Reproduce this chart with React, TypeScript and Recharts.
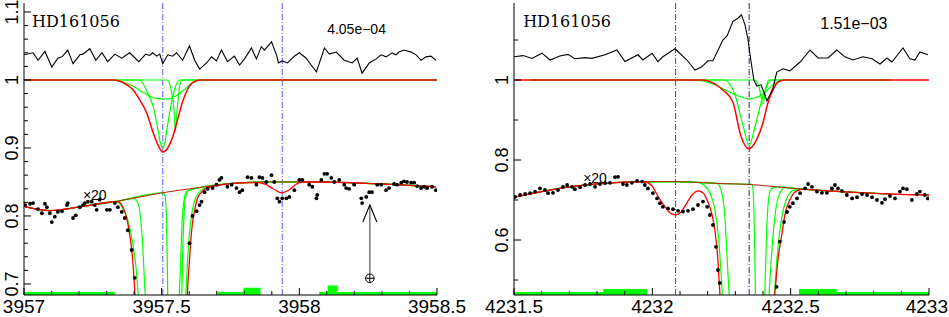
import React from 'react'
import { ComposedChart, Line, Scatter, XAxis, YAxis, ReferenceLine, ReferenceArea, ReferenceDot } from 'recharts'

type P = { x: number; y: number }
const pts = (a: number[][]): P[] => a.map(([x, y]) => ({ x, y }))

// ---------- left panel (3957 - 3958.5) ----------
const leftXTicks = [3957, 3957.1, 3957.2, 3957.3, 3957.4, 3957.5, 3957.6, 3957.7, 3957.8, 3957.9, 3958, 3958.1, 3958.2, 3958.3, 3958.4, 3958.5]
const leftXMajor = [3957, 3957.5, 3958, 3958.5]
const leftYTicks = [0.7, 0.72, 0.74, 0.76, 0.78, 0.8, 0.82, 0.84, 0.86, 0.88, 0.9, 0.92, 0.94, 0.96, 0.98, 1, 1.02, 1.04, 1.06, 1.08, 1.1]
const leftYMajor = [0.7, 0.8, 0.9, 1, 1.1]
const leftMarks = [3957.504, 3957.938]

const leftUpper = [
  [3957.0, 1.037], [3957.033, 1.04], [3957.051, 1.029], [3957.076, 1.042], [3957.101, 1.019], [3957.123, 1.032],
  [3957.138, 1.034], [3957.159, 1.044], [3957.178, 1.024], [3957.203, 1.037], [3957.214, 1.038], [3957.239, 1.046],
  [3957.261, 1.029], [3957.283, 1.04], [3957.304, 1.027], [3957.33, 1.038], [3957.355, 1.032], [3957.384, 1.04],
  [3957.417, 1.027], [3957.442, 1.038], [3957.457, 1.036], [3957.467, 1.04], [3957.482, 1.035], [3957.493, 1.038],
  [3957.504, 1.024], [3957.522, 1.037], [3957.54, 1.035], [3957.554, 1.04], [3957.576, 1.029], [3957.601, 1.05],
  [3957.62, 1.029], [3957.638, 1.016], [3957.663, 1.025], [3957.681, 1.034], [3957.699, 1.028], [3957.717, 1.044],
  [3957.739, 1.027], [3957.764, 1.035], [3957.783, 1.022], [3957.801, 1.031], [3957.826, 1.047], [3957.844, 1.031],
  [3957.862, 1.049], [3957.873, 1.044], [3957.899, 1.056], [3957.917, 1.037], [3957.924, 1.025], [3957.938, 1.028],
  [3957.957, 1.025], [3957.982, 1.035], [3958.0, 1.04], [3958.025, 1.032], [3958.043, 1.022], [3958.062, 1.012],
  [3958.091, 1.047], [3958.109, 1.038], [3958.134, 1.041], [3958.163, 1.029], [3958.192, 1.025], [3958.21, 1.032],
  [3958.228, 1.01], [3958.254, 1.025], [3958.279, 1.031], [3958.297, 1.037], [3958.315, 1.034], [3958.337, 1.04],
  [3958.351, 1.037], [3958.362, 1.041], [3958.38, 1.044], [3958.406, 1.041], [3958.424, 1.037], [3958.442, 1.029],
  [3958.46, 1.034], [3958.478, 1.035], [3958.496, 1.029],
]

const leftFit = [
  [3957.0, 1], [3957.33, 1], [3957.36, 0.996], [3957.395, 0.986], [3957.42, 0.971], [3957.446, 0.951],
  [3957.467, 0.925], [3957.486, 0.905], [3957.504, 0.894], [3957.522, 0.9], [3957.54, 0.916], [3957.558, 0.942],
  [3957.576, 0.968], [3957.594, 0.986], [3957.612, 0.996], [3957.638, 1], [3958.5, 1],
]
const leftCompA = [
  [3957.0, 1], [3957.32, 1], [3957.36, 0.997], [3957.4, 0.99], [3957.44, 0.98], [3957.48, 0.973], [3957.52, 0.972],
  [3957.55, 0.976], [3957.58, 0.985], [3957.61, 0.995], [3957.65, 1], [3958.5, 1],
]
const leftCompB = [
  [3957.0, 1], [3957.42, 1], [3957.45, 0.98], [3957.47, 0.96], [3957.485, 0.93], [3957.497, 0.905], [3957.503, 0.9],
  [3957.51, 0.905], [3957.52, 0.93], [3957.535, 0.965], [3957.55, 0.99], [3957.565, 1], [3958.5, 1],
]
const leftCompC = [
  [3957.0, 1], [3957.52, 1], [3957.535, 0.985], [3957.545, 0.955], [3957.55, 0.925], [3957.556, 0.955],
  [3957.565, 0.99], [3957.575, 1], [3958.5, 1],
]

// x20 magnified part
const leftCont = [
  [3957.0, 0.814], [3957.094, 0.808], [3957.214, 0.814], [3957.33, 0.821], [3957.5, 0.834], [3957.64, 0.842],
  [3957.757, 0.848], [3957.88, 0.85], [3958.062, 0.85], [3958.243, 0.848], [3958.496, 0.843],
]
const leftFit20 = [
  [3957.0, 0.814], [3957.094, 0.808], [3957.214, 0.814], [3957.33, 0.821], [3957.341, 0.821], [3957.359, 0.813],
  [3957.373, 0.797], [3957.384, 0.772], [3957.395, 0.735], [3957.402, 0.691], [3957.406, 0.66], [3957.42, 0.45],
  [3957.58, 0.45], [3957.591, 0.662], [3957.594, 0.691], [3957.601, 0.735], [3957.609, 0.779], [3957.62, 0.809],
  [3957.63, 0.826], [3957.645, 0.835], [3957.663, 0.841], [3957.692, 0.844], [3957.757, 0.848], [3957.844, 0.849],
  [3957.875, 0.847], [3957.905, 0.84], [3957.935, 0.834], [3957.965, 0.839], [3957.99, 0.847], [3958.011, 0.85],
  [3958.062, 0.85], [3958.243, 0.848], [3958.496, 0.843],
]
const leftCompA20 = [
  [3957.0, 0.814], [3957.094, 0.808], [3957.214, 0.814], [3957.33, 0.821], [3957.345, 0.819], [3957.36, 0.81],
  [3957.38, 0.79], [3957.395, 0.76], [3957.41, 0.71], [3957.418, 0.66], [3957.43, 0.5], [3957.57, 0.5],
  [3957.585, 0.66], [3957.592, 0.72], [3957.6, 0.77], [3957.61, 0.805], [3957.625, 0.828], [3957.645, 0.838],
  [3957.67, 0.843], [3957.757, 0.848], [3957.88, 0.85], [3958.062, 0.85], [3958.243, 0.848], [3958.496, 0.843],
]
const leftCompB20 = [
  [3957.0, 0.814], [3957.094, 0.808], [3957.214, 0.814], [3957.33, 0.821], [3957.4, 0.826], [3957.415, 0.818],
  [3957.425, 0.79], [3957.432, 0.75], [3957.438, 0.7], [3957.443, 0.66], [3957.45, 0.5], [3957.555, 0.5],
  [3957.562, 0.66], [3957.568, 0.72], [3957.573, 0.78], [3957.58, 0.82], [3957.59, 0.836], [3957.61, 0.839],
  [3957.757, 0.848], [3957.88, 0.85], [3958.062, 0.85], [3958.243, 0.848], [3958.496, 0.843],
]
const leftCompC20 = [
  [3957.0, 0.814], [3957.094, 0.808], [3957.214, 0.814], [3957.33, 0.821], [3957.505, 0.834], [3957.512, 0.83],
  [3957.517, 0.8], [3957.52, 0.74], [3957.523, 0.66], [3957.53, 0.5], [3957.565, 0.5], [3957.572, 0.66],
  [3957.576, 0.74], [3957.58, 0.79], [3957.586, 0.825], [3957.596, 0.837], [3957.62, 0.84], [3957.757, 0.848],
  [3957.88, 0.85], [3958.062, 0.85], [3958.243, 0.848], [3958.496, 0.843],
]
const leftDots = [
  [3957.004, 0.816], [3957.022, 0.818], [3957.033, 0.819], [3957.051, 0.81], [3957.065, 0.804], [3957.076, 0.818],
  [3957.083, 0.813], [3957.094, 0.804], [3957.101, 0.791], [3957.112, 0.799], [3957.123, 0.806], [3957.138, 0.807],
  [3957.156, 0.816], [3957.159, 0.819], [3957.178, 0.797], [3957.188, 0.801], [3957.203, 0.813], [3957.214, 0.816],
  [3957.221, 0.819], [3957.232, 0.821], [3957.246, 0.821], [3957.257, 0.816], [3957.264, 0.809], [3957.275, 0.824],
  [3957.301, 0.809], [3957.312, 0.809], [3957.33, 0.819], [3957.341, 0.813], [3957.355, 0.806], [3957.366, 0.797],
  [3957.377, 0.779], [3957.391, 0.75], [3957.402, 0.709], [3957.601, 0.76], [3957.612, 0.8], [3957.627, 0.807],
  [3957.638, 0.816], [3957.645, 0.821], [3957.656, 0.835], [3957.667, 0.84], [3957.685, 0.841], [3957.699, 0.846],
  [3957.71, 0.853], [3957.717, 0.856], [3957.739, 0.843], [3957.754, 0.846], [3957.772, 0.841], [3957.783, 0.835],
  [3957.793, 0.838], [3957.812, 0.857], [3957.826, 0.856], [3957.844, 0.846], [3957.855, 0.857], [3957.866, 0.856],
  [3957.88, 0.85], [3957.899, 0.86], [3957.909, 0.85], [3957.92, 0.826], [3957.928, 0.821], [3957.938, 0.826],
  [3957.953, 0.826], [3957.964, 0.828], [3957.982, 0.838], [3958.0, 0.853], [3958.011, 0.853], [3958.036, 0.846],
  [3958.047, 0.843], [3958.062, 0.826], [3958.065, 0.831], [3958.08, 0.853], [3958.091, 0.862], [3958.101, 0.862],
  [3958.116, 0.856], [3958.127, 0.85], [3958.145, 0.853], [3958.163, 0.846], [3958.17, 0.841], [3958.181, 0.84],
  [3958.199, 0.846], [3958.225, 0.826], [3958.228, 0.819], [3958.243, 0.828], [3958.254, 0.835], [3958.264, 0.835],
  [3958.283, 0.846], [3958.297, 0.846], [3958.315, 0.838], [3958.326, 0.841], [3958.344, 0.847], [3958.355, 0.846],
  [3958.37, 0.849], [3958.38, 0.851], [3958.391, 0.85], [3958.406, 0.849], [3958.417, 0.849], [3958.428, 0.844],
  [3958.442, 0.841], [3958.453, 0.843], [3958.464, 0.841], [3958.482, 0.843], [3958.496, 0.838],
]
// fitting mask: [from, to, height]
const leftMask = [
  [3957.0, 3957.33, 0.0045], [3957.703, 3957.797, 0.0045], [3957.797, 3957.859, 0.0105],
  [3958.072, 3958.103, 0.0045], [3958.103, 3958.139, 0.014], [3958.139, 3958.5, 0.0045],
]

// ---------- right panel (4231.5 - 4233) ----------
const rightXTicks = [4231.5, 4231.6, 4231.7, 4231.8, 4231.9, 4232, 4232.1, 4232.2, 4232.3, 4232.4, 4232.5, 4232.6, 4232.7, 4232.8, 4232.9, 4233]
const rightXMajor = [4231.5, 4232, 4232.5, 4233]
const rightYTicks = [0.5, 0.6, 0.7, 0.8, 0.9, 1, 1.1]
const rightYMajor = [0.6, 0.8, 1]

const rightUpper = [
  [4231.5, 1.058], [4231.533, 1.061], [4231.565, 1.054], [4231.601, 1.067], [4231.63, 1.05], [4231.666, 1.06],
  [4231.695, 1.064], [4231.72, 1.053], [4231.757, 1.056], [4231.782, 1.054], [4231.829, 1.063], [4231.872, 1.075],
  [4231.901, 1.046], [4231.948, 1.063], [4231.966, 1.05], [4231.999, 1.067], [4232.02, 1.046], [4232.038, 1.058],
  [4232.082, 1.078], [4232.125, 1.05], [4232.154, 1.025], [4232.179, 1.033], [4232.201, 1.048], [4232.219, 1.048],
  [4232.255, 1.1], [4232.27, 1.11], [4232.291, 1.146], [4232.31, 1.155], [4232.322, 1.163], [4232.335, 1.138],
  [4232.346, 1.1], [4232.356, 1.05], [4232.367, 1.0], [4232.378, 0.985], [4232.393, 0.988], [4232.404, 0.968],
  [4232.414, 0.948], [4232.425, 0.963], [4232.436, 0.98], [4232.45, 1.02], [4232.472, 1.028], [4232.497, 1.023],
  [4232.534, 1.045], [4232.57, 1.075], [4232.599, 1.055], [4232.635, 1.055], [4232.667, 1.075], [4232.696, 1.058],
  [4232.725, 1.05], [4232.761, 1.058], [4232.794, 1.053], [4232.823, 1.04], [4232.848, 1.055], [4232.866, 1.045],
  [4232.906, 1.08], [4232.931, 1.053], [4232.949, 1.05], [4232.967, 1.07], [4232.996, 1.063],
]
const rightFit = [
  [4231.5, 1], [4232.183, 1], [4232.219, 0.993], [4232.255, 0.975], [4232.291, 0.945], [4232.32, 0.86],
  [4232.349, 0.828], [4232.378, 0.852], [4232.4, 0.893], [4232.418, 0.943], [4232.436, 0.975], [4232.454, 0.995],
  [4232.479, 1], [4233.0, 1],
]
const rightCompA = [
  [4231.56, 1], [4232.15, 1], [4232.22, 0.99], [4232.29, 0.966], [4232.35, 0.953], [4232.4, 0.965],
  [4232.44, 0.99], [4232.48, 1], [4232.86, 1],
]
const rightCompB = [
  [4231.56, 1], [4232.26, 1], [4232.3, 0.96], [4232.33, 0.88], [4232.35, 0.836], [4232.37, 0.88],
  [4232.4, 0.96], [4232.43, 1], [4232.86, 1],
]
const rightCompC = [
  [4231.56, 1], [4232.37, 1], [4232.385, 0.985], [4232.4, 0.94], [4232.41, 0.975], [4232.42, 1], [4232.86, 1],
]

const rightCont = [
  [4231.5, 0.707], [4231.594, 0.72], [4231.702, 0.733], [4231.811, 0.741], [4231.919, 0.745], [4232.0, 0.746],
  [4232.085, 0.746], [4232.165, 0.744], [4232.25, 0.741], [4232.349, 0.739], [4232.45, 0.733], [4232.544, 0.727],
  [4232.606, 0.724], [4232.787, 0.717], [4232.895, 0.714], [4233.0, 0.7125],
]
const rightFit20 = [
  [4231.5, 0.707], [4231.594, 0.72], [4231.702, 0.733], [4231.811, 0.741], [4231.919, 0.745], [4231.973, 0.745],
  [4231.999, 0.735], [4232.02, 0.71], [4232.046, 0.683], [4232.067, 0.666], [4232.085, 0.663], [4232.104, 0.67],
  [4232.125, 0.693], [4232.147, 0.715], [4232.165, 0.723], [4232.183, 0.718], [4232.201, 0.695], [4232.216, 0.663],
  [4232.226, 0.625], [4232.237, 0.55], [4232.244, 0.468], [4232.252, 0.4], [4232.432, 0.4], [4232.443, 0.468],
  [4232.454, 0.55], [4232.469, 0.618], [4232.479, 0.663], [4232.497, 0.7], [4232.516, 0.72], [4232.544, 0.727],
  [4232.606, 0.724], [4232.787, 0.717], [4232.895, 0.714], [4233.0, 0.7125],
]
const rightCompA20 = [
  [4231.56, 0.716], [4231.702, 0.733], [4231.811, 0.741], [4231.919, 0.745], [4232.085, 0.746], [4232.165, 0.744],
  [4232.19, 0.735], [4232.21, 0.715], [4232.225, 0.68], [4232.24, 0.6], [4232.25, 0.5], [4232.26, 0.4],
  [4232.435, 0.4], [4232.44, 0.45], [4232.45, 0.55], [4232.462, 0.63], [4232.475, 0.68], [4232.49, 0.71],
  [4232.51, 0.724], [4232.544, 0.727], [4232.606, 0.724], [4232.787, 0.717], [4232.86, 0.715],
]
const rightCompB20 = [
  [4231.56, 0.716], [4231.702, 0.733], [4231.811, 0.741], [4231.919, 0.745], [4232.085, 0.746], [4232.165, 0.744],
  [4232.235, 0.741], [4232.25, 0.72], [4232.262, 0.66], [4232.27, 0.56], [4232.277, 0.47], [4232.285, 0.4],
  [4232.415, 0.4], [4232.425, 0.5], [4232.435, 0.6], [4232.445, 0.67], [4232.46, 0.715], [4232.48, 0.731],
  [4232.544, 0.727], [4232.606, 0.724], [4232.787, 0.717], [4232.86, 0.715],
]
const rightCompC20 = [
  [4231.56, 0.716], [4231.702, 0.733], [4231.811, 0.741], [4231.919, 0.745], [4232.085, 0.746], [4232.165, 0.744],
  [4232.25, 0.741], [4232.36, 0.739], [4232.366, 0.7], [4232.37, 0.58], [4232.373, 0.45], [4232.376, 0.4],
  [4232.405, 0.4], [4232.408, 0.5], [4232.413, 0.62], [4232.42, 0.7], [4232.43, 0.728], [4232.45, 0.733],
  [4232.544, 0.727], [4232.606, 0.724], [4232.787, 0.717], [4232.86, 0.715],
]
const rightDots = [
  [4231.504, 0.708], [4231.522, 0.7125], [4231.54, 0.715], [4231.558, 0.717], [4231.576, 0.721], [4231.594, 0.729],
  [4231.612, 0.725], [4231.623, 0.717], [4231.641, 0.718], [4231.659, 0.725], [4231.677, 0.733], [4231.692, 0.7375],
  [4231.71, 0.733], [4231.72, 0.727], [4231.739, 0.732], [4231.757, 0.7375], [4231.775, 0.74], [4231.793, 0.733],
  [4231.811, 0.74], [4231.829, 0.742], [4231.847, 0.743], [4231.865, 0.757], [4231.876, 0.758], [4231.894, 0.74],
  [4231.908, 0.7375], [4231.926, 0.743], [4231.945, 0.748], [4231.963, 0.746], [4231.973, 0.7375], [4231.984, 0.729],
  [4232.002, 0.717], [4232.017, 0.704], [4232.028, 0.692], [4232.038, 0.683], [4232.057, 0.679], [4232.075, 0.677],
  [4232.093, 0.673], [4232.111, 0.671], [4232.129, 0.673], [4232.147, 0.677], [4232.165, 0.6875], [4232.183, 0.696],
  [4232.198, 0.683], [4232.208, 0.6625], [4232.219, 0.6375], [4232.23, 0.583], [4232.237, 0.525], [4232.244, 0.4925],
  [4232.449, 0.483], [4232.461, 0.596], [4232.476, 0.645], [4232.487, 0.67], [4232.497, 0.683], [4232.508, 0.692],
  [4232.523, 0.704], [4232.534, 0.717], [4232.552, 0.729], [4232.563, 0.74], [4232.577, 0.733], [4232.595, 0.721],
  [4232.613, 0.718], [4232.631, 0.718], [4232.649, 0.729], [4232.66, 0.7375], [4232.671, 0.729], [4232.685, 0.723],
  [4232.703, 0.7125], [4232.722, 0.704], [4232.74, 0.707], [4232.758, 0.715], [4232.776, 0.7125], [4232.794, 0.707],
  [4232.812, 0.7], [4232.83, 0.693], [4232.841, 0.702], [4232.859, 0.71], [4232.877, 0.704], [4232.895, 0.721],
  [4232.906, 0.729], [4232.92, 0.727], [4232.938, 0.7], [4232.956, 0.715], [4232.967, 0.721], [4232.985, 0.7125],
  [4232.996, 0.704],
]
const rightMask = [
  [4231.5, 4231.822, 0.0075], [4231.822, 4231.981, 0.015], [4232.53, 4232.667, 0.015], [4232.667, 4233.0, 0.0075],
]

const LEFT_Y: [number, number] = [0.6838, 1.1132]
const RIGHT_Y: [number, number] = [0.4625, 1.1925]

const SANS = 'Liberation Sans, Arial, sans-serif'
const SERIF = 'DejaVu Serif, serif'
const GREEN = '#00ff00'
const RED = '#ff0000'
const LABEL = 19

const near = (list: number[], v: number) => list.some((m) => Math.abs(m - v) < 1e-6)
const fmt = (v: number) => String(Math.round(v * 1000) / 1000)

const BottomTick = (p: any) => {
  const v = p.payload.value
  const major = near(p.major, v)
  const last = p.endAt != null && Math.abs(v - p.endAt) < 1e-6
  return (
    <g>
      <line x1={p.x} x2={p.x} y1={p.y} y2={p.y - (major ? 7 : 4)} stroke="#000" />
      {major && (
        <text x={last ? p.x + 19 : p.x} y={p.y + 18} textAnchor={last ? 'end' : 'middle'} fontSize={LABEL} fontFamily={SANS} fill="#000">
          {fmt(v)}
        </text>
      )}
    </g>
  )
}
const TopTick = (p: any) => {
  const major = near(p.major, p.payload.value)
  return <line x1={p.x} x2={p.x} y1={p.y} y2={p.y + (major ? 7 : 4)} stroke="#000" />
}
const LeftTick = (p: any) => {
  const major = near(p.major, p.payload.value)
  const tx = p.x - 6
  return (
    <g>
      <line x1={p.x} x2={p.x + (major ? 7 : 4)} y1={p.y} y2={p.y} stroke="#000" />
      {near(p.labels, p.payload.value) && (
        <text x={tx} y={p.y} transform={`rotate(-90 ${tx} ${p.y})`} textAnchor="middle" fontSize={18} fontFamily={SANS} fill="#000">
          {fmt(p.payload.value)}
        </text>
      )}
    </g>
  )
}
const RightTick = (p: any) => {
  const major = near(p.major, p.payload.value)
  return <line x1={p.x} x2={p.x - (major ? 7 : 4)} y1={p.y} y2={p.y} stroke="#000" />
}

function axes(xDom: number[], yDom: number[], xT: number[], xM: number[], yT: number[], yM: number[], yL: number[], yW: number, endAt?: number) {
  const common = { type: 'number' as const, allowDataOverflow: true, interval: 0 as const, tickSize: 0, tickMargin: 0, tickLine: false, axisLine: { stroke: '#000' } }
  return [
    <XAxis key="xb" xAxisId="b" dataKey="x" domain={xDom} ticks={xT} height={22} {...common} tick={(p: any) => <BottomTick {...p} major={xM} endAt={endAt} />} />,
    <XAxis key="xt" xAxisId="t" orientation="top" dataKey="x" domain={xDom} ticks={xT} height={0} {...common} tick={(p: any) => <TopTick {...p} major={xM} />} />,
    <YAxis key="yl" yAxisId="l" dataKey="y" domain={yDom} ticks={yT} width={yW} {...common} tick={(p: any) => <LeftTick {...p} major={yM} labels={yL} />} />,
    <YAxis key="yr" yAxisId="r" orientation="right" dataKey="y" domain={yDom} ticks={yT} width={0} {...common} tick={(p: any) => <RightTick {...p} major={yM} />} />,
  ]
}

const line = (key: string, data: number[][], color: string, w = 1.2, type: 'monotone' | 'linear' = 'monotone') => (
  <Line key={key} xAxisId="b" yAxisId="l" data={pts(data)} dataKey="y" type={type} stroke={color} strokeWidth={w} dot={false} activeDot={false} isAnimationActive={false} />
)
const dotShape = (p: any) => <circle cx={p.cx} cy={p.cy} r={1.9} fill="#000" />
const textShape = (txt: string, size: number, family: string) => (p: any) => (
  <text x={p.cx} y={p.cy} fontSize={size} fontFamily={family} fill="#000">{txt}</text>
)
const masks = (list: number[][], base: number, prefix: string) =>
  list.map(([a, b, h], i) => (
    <ReferenceArea key={prefix + i} xAxisId="b" yAxisId="l" x1={a} x2={b} y1={base} y2={base + h} fill={GREEN} fillOpacity={1} stroke="none" ifOverflow="visible" />
  ))

export default function App() {
  return (
    <div style={{ position: 'absolute', left: 0, top: 0, width: 949, height: 317, background: '#fff', fontFamily: SANS }}>
      <div style={{ position: 'absolute', left: 0, top: 0 }}>
        <ComposedChart width={470} height={317} margin={{ top: 3, right: 33, bottom: 0, left: 0 }}>
          {axes([3957, 3958.5], LEFT_Y, leftXTicks, leftXMajor, leftYTicks, leftYMajor, leftYMajor, 24)}
          {masks(leftMask, LEFT_Y[0], 'lm')}
          {leftMarks.map((m) => (
            <ReferenceLine key={m} xAxisId="b" yAxisId="l" x={m} stroke="#5a5aff" strokeWidth={1} strokeDasharray="6 2 1 2" />
          ))}
          {line('la', leftCompA, GREEN)}
          {line('lb', leftCompB, GREEN)}
          {line('lc', leftCompC, GREEN)}
          {line('lfit', leftFit, RED, 1.5)}
          {line('lup', leftUpper, '#000', 1.1, 'linear')}
          {line('la20', leftCompA20, GREEN)}
          {line('lb20', leftCompB20, GREEN)}
          {line('lc20', leftCompC20, GREEN)}
          {line('lcont', leftCont, '#c02000', 1)}
          {line('lfit20', leftFit20, RED, 1.3)}
          <Scatter xAxisId="b" yAxisId="l" data={pts(leftDots)} dataKey="y" shape={dotShape} isAnimationActive={false} />
          <ReferenceLine xAxisId="b" yAxisId="l" segment={[{ x: 3958.256, y: 0.7147 }, { x: 3958.256, y: 0.8162 }]} stroke="#777" strokeWidth={1.5} />
          <ReferenceDot xAxisId="b" yAxisId="l" x={3958.256} y={0.8162} shape={(p: any) => (
            <path d={`M${p.cx - 7},${p.cy + 17} L${p.cx},${p.cy} L${p.cx + 7},${p.cy + 17}`} fill="none" stroke="#000" strokeWidth={1.1} />
          )} />
          <ReferenceDot xAxisId="b" yAxisId="l" x={3958.256} y={0.7084} shape={(p: any) => (
            <g fill="none" stroke="#000" strokeWidth={1}>
              <circle cx={p.cx} cy={p.cy} r={4.3} />
              <line x1={p.cx - 4.3} x2={p.cx + 4.3} y1={p.cy} y2={p.cy} />
              <line x1={p.cx} x2={p.cx} y1={p.cy - 4.3} y2={p.cy + 4.3} />
            </g>
          )} />
          <ReferenceDot xAxisId="b" yAxisId="l" x={3957.029} y={1.078} shape={textShape('HD161056', 16, SERIF)} />
          <ReferenceDot xAxisId="b" yAxisId="l" x={3958.101} y={1.067} shape={textShape('4.05e\u221204', 14, SANS)} />
          <ReferenceDot xAxisId="b" yAxisId="l" x={3957.214} y={0.8235} shape={textShape('\u00d720', 14, SANS)} />
        </ComposedChart>
      </div>
      <div style={{ position: 'absolute', left: 470, top: 0 }}>
        <ComposedChart width={479} height={317} margin={{ top: 3, right: 20, bottom: 0, left: 0 }}>
          {axes([4231.5, 4233], RIGHT_Y, rightXTicks, rightXMajor, rightYTicks, rightYMajor, rightYMajor, 44, 4233)}
          {masks(rightMask, RIGHT_Y[0], 'rm')}
          <ReferenceLine xAxisId="b" yAxisId="l" x={4232.084} stroke="#3c3cff" strokeDasharray="6 2 1 2" />
          <ReferenceLine xAxisId="b" yAxisId="l" x={4232.35} stroke="#2a2a70" strokeDasharray="6 2 1 2" />
          {line('ra', rightCompA, GREEN)}
          {line('rb', rightCompB, GREEN)}
          {line('rc', rightCompC, GREEN)}
          {line('rfit', rightFit, RED, 1.5)}
          {line('rup', rightUpper, '#000', 1.1, 'linear')}
          {line('ra20', rightCompA20, GREEN)}
          {line('rb20', rightCompB20, GREEN)}
          {line('rc20', rightCompC20, GREEN)}
          {line('rcont', rightCont, '#c02000', 1)}
          {line('rfit20', rightFit20, RED, 1.3)}
          <Scatter xAxisId="b" yAxisId="l" data={pts(rightDots)} dataKey="y" shape={dotShape} isAnimationActive={false} />
          <ReferenceDot xAxisId="b" yAxisId="l" x={4231.533} y={1.1325} shape={textShape('HD161056', 16, SERIF)} />
          <ReferenceDot xAxisId="b" yAxisId="l" x={4232.607} y={1.1275} shape={textShape('1.51e\u221203', 16, SANS)} />
          <ReferenceDot xAxisId="b" yAxisId="l" x={4231.75} y={0.7425} shape={textShape('\u00d720', 14, SANS)} />
        </ComposedChart>
      </div>
    </div>
  )
}
